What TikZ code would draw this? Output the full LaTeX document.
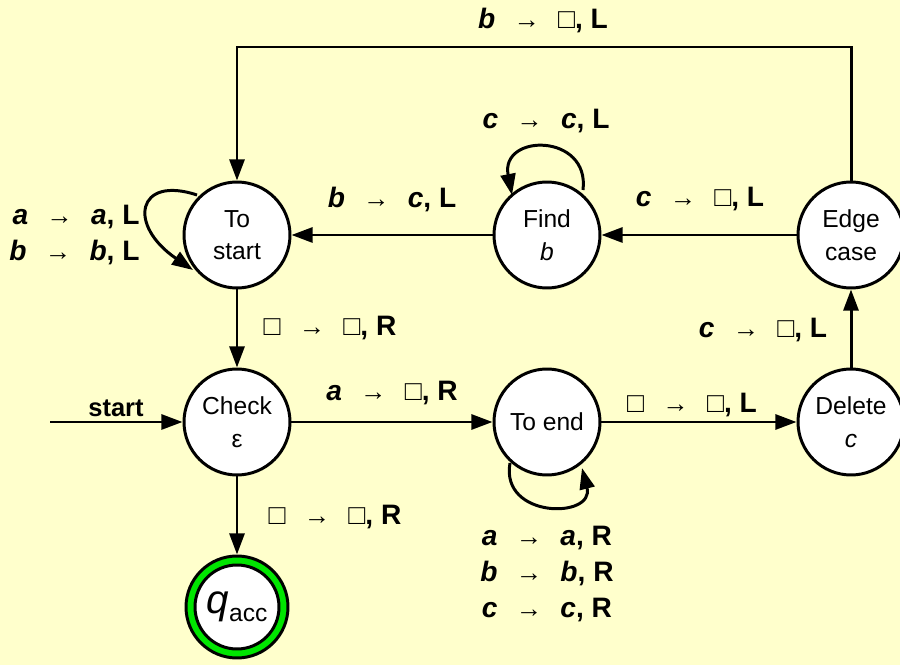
\documentclass[tikz,border=0pt]{standalone}
\usepackage{fontspec}
\setmainfont{Liberation Sans}
\usetikzlibrary{arrows.meta,calc}
\definecolor{bg}{RGB}{255,255,204}
\definecolor{accgreen}{RGB}{0,230,0}
\newcommand{\ar}{\hspace{0.65em}{\fontsize{15}{15}\selectfont\mdseries →}\hspace{0.65em}}
\newcommand{\bl}{{\mdseries □}}
\newcommand{\iv}[1]{\textit{#1}}
\begin{document}
\begin{tikzpicture}[x=0.02cm,y=0.02cm, line width=1.7pt,
  >={Triangle[length=12pt,width=8.5pt]},
  st/.style={circle,draw,fill=white,minimum size=2.12cm,inner sep=0pt,align=center,
    font=\fontsize{14}{18.5}\selectfont},
  lb/.style={font=\fontsize{16}{20}\selectfont\bfseries, inner sep=0pt, align=center}]
\fill[bg] (0,0) rectangle (900,-665);
\useasboundingbox (0,0) rectangle (900,-665);

\node[st] (ts) at (237,-235) {To\\start};
\node[st] (fb) at (547,-235) {Find\\\textit{b}};
\node[st] (ec) at (851,-235) {Edge\\case};
\node[st] (ck) at (237,-422) {Check\\ε};
\node[st] (te) at (547,-422) {To end};
\node[st] (dc) at (851,-422) {Delete\\\textit{c}};
\node[circle,draw,fill=accgreen,minimum size=2.04cm,inner sep=0pt] (qa) at (237,-607) {};
\node[circle,draw,fill=white,minimum size=1.68cm,inner sep=0pt,font=\fontsize{14}{16}\selectfont] (qi) at (qa) {{\fontsize{23}{23}\selectfont\textit{q}}\raisebox{-0.6ex}{acc}};

\coordinate (s0) at (50,-422);
\coordinate (top) at (851,-47);

% edges
\draw[->] (ec.north) -- (top) -| (ts.north);
\draw[->] (ec) -- (fb);
\draw[->] (fb) -- (ts);
\draw[->] (ts) -- (ck);
\draw[->] (s0) -- (ck);
\draw[->] (ck) -- (te);
\draw[->] (te) -- (dc);
\draw[->] (dc) -- (ec);
\draw[->] (ck) -- (qa);

% loops
\draw[->] ($(ts)+(-40,40)$) .. controls ($(ts)+(-100,60)$) and ($(ts)+(-110,10)$) .. ($(ts)+(-44,-35)$);
\draw[->] ($(fb)+(36,45)$) .. controls ($(fb)+(43,102)$) and ($(fb)+(-47,102)$) .. ($(fb)+(-35,40)$);
\draw[->] ($(te)+(-37,-41)$) .. controls ($(te)+(-47,-97)$) and ($(te)+(48,-97)$) .. ($(te)+(35,-46)$);

% labels
\node[lb] (l1) at (543,-20) {\iv{b}\ar\bl, L};
\node[lb] (l2) at (546,-121) {\iv{c}\ar\iv{c}, L};
\node[lb] (l3) at (392,-199) {\iv{b}\ar\iv{c}, L};
\node[lb] (l4) at (700,-199) {\iv{c}\ar\bl, L};
\node[lb,anchor=east,align=right] (l5) at (141,-235) {\iv{a}\ar\iv{a}, L\\\iv{b}\ar\iv{b}, L};
\node[lb] (l6) at (330,-328) {\bl\ar\bl, R};
\node[lb] (l7) at (392,-393) {\iv{a}\ar\bl, R};
\node[lb] (l8) at (692,-405) {\bl\ar\bl, L};
\node[lb] (l9) at (763,-330) {\iv{c}\ar\bl, L};
\node[lb] (l10) at (335,-517) {\bl\ar\bl, R};
\node[lb,font=\fontsize{16}{20.5}\selectfont\bfseries] (l11) at (547,-574) {\iv{a}\ar\iv{a}, R\\\iv{b}\ar\iv{b}, R\\\iv{c}\ar\iv{c}, R};
\node[font=\fontsize{14.5}{16}\selectfont\bfseries,inner sep=0pt] (sl) at (116,-408) {start};
\end{tikzpicture}
\end{document}
